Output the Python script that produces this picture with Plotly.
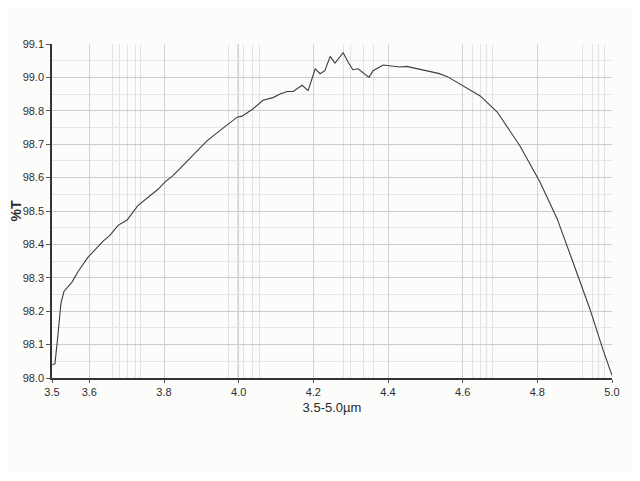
import numpy as np
import plotly.graph_objects as go

# spectrum (wavelength in um, transmittance in %T)
wavelength = [3.501, 3.508, 3.516, 3.524, 3.532, 3.554, 3.570, 3.596, 3.637, 3.655,
              3.677, 3.701, 3.730, 3.784, 3.803, 3.824, 3.870, 3.915, 3.958, 3.996,
              4.009, 4.038, 4.065, 4.092, 4.111, 4.119, 4.130, 4.146, 4.170, 4.186,
              4.205, 4.218, 4.231, 4.245, 4.258, 4.280, 4.293, 4.306, 4.320, 4.349,
              4.360, 4.387, 4.410, 4.432, 4.450, 4.467, 4.490, 4.513, 4.535, 4.558,
              4.593, 4.647, 4.692, 4.754, 4.807, 4.853, 4.896, 4.941, 4.976, 5.000]
transmittance = [98.040, 98.043, 98.130, 98.224, 98.259, 98.288, 98.319, 98.361, 98.410, 98.427,
                 98.457, 98.473, 98.516, 98.565, 98.587, 98.606, 98.658, 98.710, 98.748, 98.781,
                 98.784, 98.811, 98.863, 98.879, 98.900, 98.905, 98.916, 98.916, 98.953, 98.921,
                 99.026, 99.011, 99.020, 99.063, 99.043, 99.074, 99.046, 99.023, 99.026, 99.000,
                 99.020, 99.037, 99.034, 99.031, 99.033, 99.029, 99.024, 99.017, 99.012, 99.003,
                 98.958, 98.889, 98.797, 98.694, 98.587, 98.477, 98.345, 98.206, 98.084, 98.008]

# axis labels as printed on the chart (the y scale is not linear: 98.9 is skipped)
y_labels = ['98.0', '98.1', '98.2', '98.3', '98.4', '98.5', '98.6', '98.7', '98.8', '99.0', '99.1']
x_ticks = [3.5, 3.6, 3.8, 4.0, 4.2, 4.4, 4.6, 4.8, 5.0]
x_minor = [3.661, 3.680, 3.701, 3.723, 3.738, 3.974, 3.996, 4.014, 4.036, 4.055,
           4.280, 4.299, 4.334, 4.360, 4.625, 4.647, 4.665, 4.681,
           4.922, 4.947, 4.963, 4.981]

label_vals = [float(s) for s in y_labels]
label_idx = np.arange(len(y_labels))
y_pos = np.interp(transmittance, label_vals, label_idx)

fig = go.Figure()
fig.add_trace(go.Scatter(
    x=wavelength, y=y_pos, mode='lines',
    line=dict(color='#3c3c3c', width=1.1),
    hoverinfo='skip', showlegend=False
))

# the page adds an 8px body margin, so the figure is a bit smaller than the window
fig.update_layout(
    width=624, height=465,
    margin=dict(l=44, r=20, t=36, b=95),
    paper_bgcolor='#fcfcfa', plot_bgcolor='#fcfcfa',
    font=dict(family='Liberation Sans, Arial, sans-serif', color='#2e2e2e', size=11),
    xaxis=dict(
        range=[3.5, 5.0], tickmode='array', tickvals=x_ticks,
        ticktext=['%.1f' % v for v in x_ticks], automargin=False,
        showline=True, linecolor='#333333', linewidth=1.5,
        ticks='outside', ticklen=3, tickcolor='#555555',
        showgrid=True, gridcolor='#d2d2d2', gridwidth=1, zeroline=False,
        minor=dict(tickvals=x_minor, showgrid=True, gridcolor='#e3e3e3', gridwidth=1),
        title=dict(text='3.5-5.0µm', font=dict(size=13, color='#2a2a2a'), standoff=6),
        tickfont=dict(size=11)
    ),
    yaxis=dict(
        range=[0, 10], tickmode='array', tickvals=list(label_idx), ticktext=y_labels,
        automargin=False,
        showline=True, linecolor='#333333', linewidth=1.5,
        ticks='outside', ticklen=4, tickcolor='#555555',
        showgrid=True, gridcolor='#cccccc', gridwidth=1, zeroline=False,
        minor=dict(tickvals=list(label_idx[:-1] + 0.5), showgrid=True,
                   gridcolor='#e6e6e6', gridwidth=1),
        title=dict(text='<b>%T</b>', font=dict(size=14, color='#2a2a2a'), standoff=4),
        tickfont=dict(size=11)
    )
)

fig.write_html('out.html')
